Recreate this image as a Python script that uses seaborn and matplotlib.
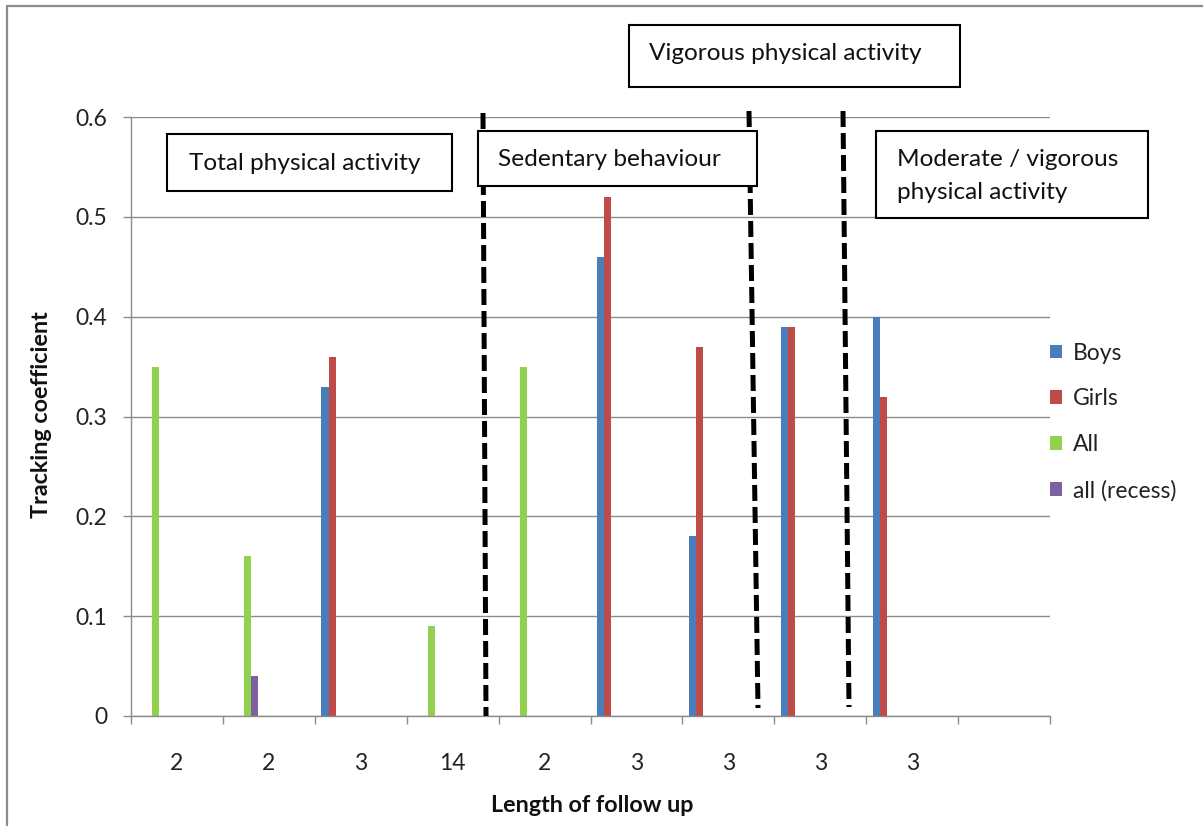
import matplotlib
matplotlib.use("Agg")
import matplotlib.pyplot as plt
import seaborn as sns
import pandas as pd
import numpy as np
from matplotlib.patches import Rectangle, Patch
from matplotlib.lines import Line2D

# ---------------- data ----------------
study_keys = ["S1", "S2", "S3", "S4", "S5", "S6", "S7", "S8", "S9", "S10"]
follow_up_labels = ["2", "2", "3", "14", "2", "3", "3", "3", "3", ""]
series_names = ["Boys", "Girls", "All", "all (recess)"]
boys = [None, None, 0.33, None, None, 0.46, 0.18, 0.39, 0.40, None]
girls = [None, None, 0.36, None, None, 0.52, 0.37, 0.39, 0.32, None]
all_children = [0.35, 0.16, None, 0.09, 0.35, None, None, None, None, None]
all_recess = [None, 0.04, None, None, None, None, None, None, None, None]
y_ticks = [0, 0.1, 0.2, 0.3, 0.4, 0.5, 0.6]
y_tick_labels = ["0", "0.1", "0.2", "0.3", "0.4", "0.5", "0.6"]
section_labels = ["Total physical activity", "Sedentary behaviour",
                  "Vigorous physical activity",
                  "Moderate / vigorous\nphysical activity"]

colors = ["#4A7EBB", "#BE4B48", "#92D050", "#7D60A0"]

rows = []
for name, vals in zip(series_names, [boys, girls, all_children, all_recess]):
    for key, v in zip(study_keys, vals):
        if v is not None:
            rows.append({"study": key, "series": name, "value": v})
df = pd.DataFrame(rows)

# ---------------- figure ----------------
W, H = 1203, 826
sns.set_theme(style="white")
plt.rcParams["font.family"] = ["Lato", "DejaVu Sans"]

fig = plt.figure(figsize=(W / 100, H / 100), dpi=100)
ax = fig.add_axes([131 / W, (H - 716) / H, (1050 - 131) / W, (716 - 117) / H])

def px(x, y):
    return (x / W, 1 - y / H)

sns.barplot(data=df, x="study", y="value", hue="series", order=study_keys,
            hue_order=series_names, palette=colors, width=0.312,
            errorbar=None, ax=ax, legend=False, saturation=1,
            linewidth=0)

# Excel places the series group toward the left of each slot
for p in ax.patches:
    p.set_x(p.get_x() - 0.272)

ax.set_xlim(-0.5, len(study_keys) - 0.5)
ax.set_ylim(0, 0.6)
ax.set_yticks(y_ticks)
ax.set_yticklabels(y_tick_labels)
ax.set_xticks(range(len(study_keys)))
ax.set_xticklabels(follow_up_labels)
ax.set_xticks(np.arange(-0.5, len(study_keys), 1.0), minor=True)

grid_c = "#8C8C8C"
ax.yaxis.grid(True, color=grid_c, linewidth=1.0)
ax.set_axisbelow(True)
for s in ["top", "right"]:
    ax.spines[s].set_visible(False)
for s in ["left", "bottom"]:
    ax.spines[s].set_color(grid_c)
    ax.spines[s].set_linewidth(1.0)

ax.tick_params(axis="x", which="major", length=0, pad=27, labelsize=16.5,
               labelcolor="#222222")
ax.tick_params(axis="x", which="minor", length=6, width=1, color=grid_c,
               direction="out", bottom=True)
ax.tick_params(axis="y", which="major", length=6, width=1, color=grid_c,
               direction="out", left=True, pad=11, labelsize=16.5,
               labelcolor="#222222")

ax.set_xlabel("")
ax.set_ylabel("")
fig.text(*px(592, 806), "Length of follow up", ha="center", va="center",
         fontsize=16.8, fontweight="bold", color="#111111")
fig.text(*px(42, 415), "Tracking coefficient", ha="center", va="center",
         rotation=90, fontsize=16.8, fontweight="bold", color="#111111")

# legend
handles = [Patch(facecolor=c, edgecolor="none") for c in colors]
fig.legend(handles, series_names, loc="upper left",
           bbox_to_anchor=px(1029, 322), frameon=False, fontsize=16.5,
           handlelength=0.55, handleheight=0.55, handletextpad=0.45,
           labelspacing=1.08, labelcolor="#222222")

# frame around image
fig.add_artist(Line2D([7 / W, 7 / W], [0, 1 - 6 / H], transform=fig.transFigure,
                      color="#8C8C8C", linewidth=1.6))
fig.add_artist(Line2D([7 / W, 1], [1 - 6 / H, 1 - 6 / H], transform=fig.transFigure,
                      color="#8C8C8C", linewidth=1.6))

# dashed dividers
dividers = [((483, 113), (486, 716)), ((749, 111), (758, 708)),
            ((843, 111), (849, 707))]
for (x0, y0), (x1, y1) in dividers:
    a, b = px(x0, y0), px(x1, y1)
    fig.add_artist(Line2D([a[0], b[0]], [a[1], b[1]], transform=fig.transFigure,
                          color="black", linewidth=3.6,
                          linestyle=(0, (3.2, 1.2)), zorder=5))

# text boxes
boxes = [
    ((167, 134, 452, 191), (189, 163), section_labels[0]),
    ((478, 131, 757, 186), (498, 160), section_labels[1]),
    ((629, 25, 960, 87), (649, 53), section_labels[2]),
    ((876, 131, 1148, 218), (897, 176), section_labels[3]),
]
for (x0, y0, x1, y1), (tx, ty), label in boxes:
    bl = px(x0, y1)
    fig.add_artist(Rectangle(bl, (x1 - x0) / W, (y1 - y0) / H,
                             transform=fig.transFigure, facecolor="white",
                             edgecolor="black", linewidth=1.5, zorder=6))
    fig.text(*px(tx, ty), label, ha="left", va="center", fontsize=17.6,
             color="#111111", zorder=7, linespacing=1.72)

fig.savefig("out.png", dpi=100)
